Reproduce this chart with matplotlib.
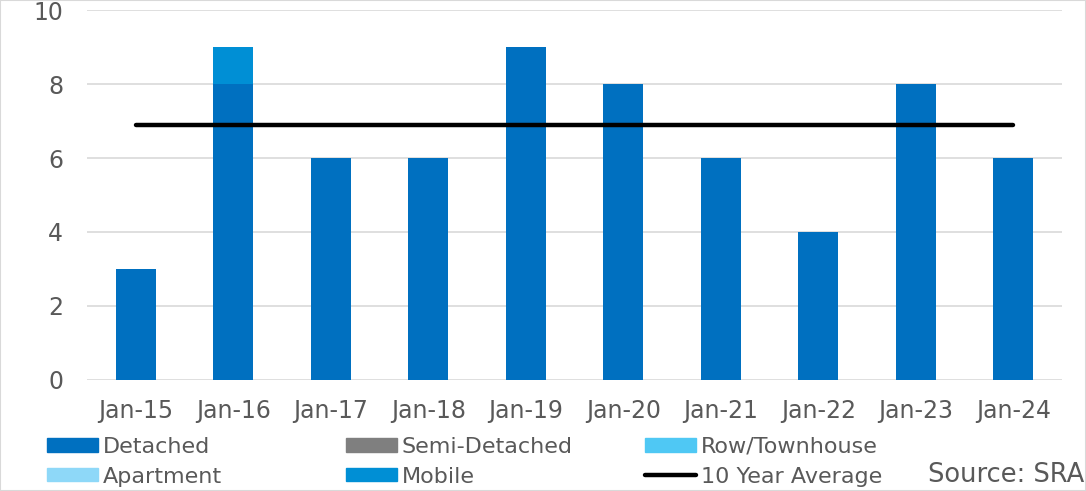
import numpy as np
import matplotlib.pyplot as plt
from matplotlib.patches import Rectangle
from matplotlib.lines import Line2D

# Sales by type, January of each year
months = ['Jan-15', 'Jan-16', 'Jan-17', 'Jan-18', 'Jan-19',
          'Jan-20', 'Jan-21', 'Jan-22', 'Jan-23', 'Jan-24']
detached = [3, 8, 6, 6, 9, 8, 6, 4, 8, 6]
semi_detached = [0, 0, 0, 0, 0, 0, 0, 0, 0, 0]
row_townhouse = [0, 0, 0, 0, 0, 0, 0, 0, 0, 0]
apartment = [0, 0, 0, 0, 0, 0, 0, 0, 0, 0]
mobile = [0, 1, 0, 0, 0, 0, 0, 0, 0, 0]
ten_year_avg = 6.9

series = [
    ('Detached', detached, '#0070c0'),
    ('Semi-Detached', semi_detached, '#7f7f7f'),
    ('Row/Townhouse', row_townhouse, '#4fc8f4'),
    ('Apartment', apartment, '#8ed8f8'),
    ('Mobile', mobile, '#008fd5'),
]

txt = '#595959'
fig = plt.figure(figsize=(10.86, 4.91), dpi=100)
ax = fig.add_axes([0.080, 0.2261, 0.898, 0.7535])

x = np.arange(len(months))
bottom = np.zeros(len(months))
handles = {}
for name, vals, col in series:
    vals = np.array(vals, dtype=float)
    ax.bar(x, vals, width=0.41, bottom=bottom, color=col, zorder=2)
    bottom += vals
    handles[name] = Rectangle((0, 0), 1, 1, color=col)

ax.plot(x, [ten_year_avg] * len(x), color='black', lw=3.2,
        solid_capstyle='round', zorder=3)
handles['10 Year Average'] = Line2D([], [], color='black', lw=3.2,
                                    solid_capstyle='round')

ax.set_xlim(-0.5, len(months) - 0.5)
ax.set_ylim(0, 10)
ax.set_yticks([0, 2, 4, 6, 8, 10])
ax.set_xticks(x)
ax.set_xticklabels(months)
ax.grid(axis='y', color='#d9d9d9', lw=1.2, zorder=0)
ax.set_axisbelow(True)
for s in ax.spines.values():
    s.set_visible(False)
ax.tick_params(axis='both', length=0, labelsize=17, labelcolor=txt)
ax.tick_params(axis='y', pad=17)
ax.tick_params(axis='x', pad=14)

# legend: three fixed-width columns like the original
columns = [['Detached', 'Apartment'],
           ['Semi-Detached', 'Mobile'],
           ['Row/Townhouse', '10 Year Average']]
col_x = [47, 346, 645]
for names, px in zip(columns, col_x):
    leg = fig.legend([handles[k] for k in names], names,
                     loc='upper left', bbox_to_anchor=(px / 1086, 0.110),
                     frameon=False, fontsize=16, labelcolor=txt,
                     borderpad=0, borderaxespad=0,
                     handlelength=2.3, handleheight=0.55, handletextpad=0.2,
                     labelspacing=0.43)

fig.text(0.9985, 0.032, 'Source: SRA', ha='right', va='center',
         fontsize=18.5, color=txt)

fig.add_artist(Rectangle((0, 0), 1, 1, transform=fig.transFigure,
                         fill=False, ec='#d9d9d9', lw=1.5))

plt.savefig('out.png', dpi=100)
